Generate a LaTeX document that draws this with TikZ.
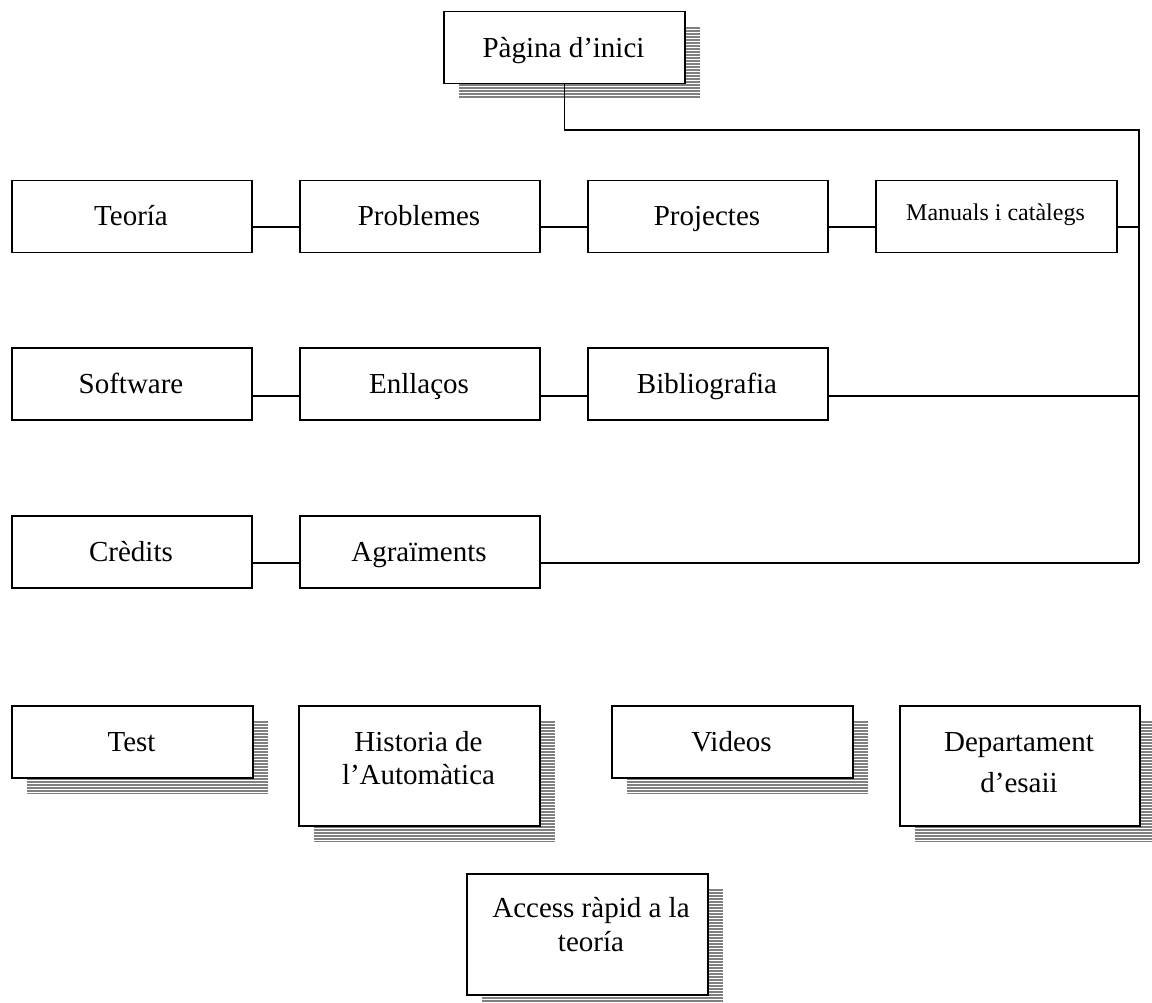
\documentclass[tikz,border=0pt]{standalone}
\usepackage{fontspec}
\setmainfont{Liberation Serif}
\newcommand\mainsize{\fontsize{29}{33}\selectfont}
\newcommand\smallsize{\fontsize{24}{28}\selectfont}
\newcommand\shadowat[4]{%
  \begin{scope}
    \clip (#1+16,#2+16) rectangle (#3+16,#4+16);
    \foreach \k in {0,...,46}{\draw[shadowline] (#1+16,#2+17+3*\k) -- (#3+16,#2+17+3*\k);}
  \end{scope}}
\tikzset{
  boxnode/.style={draw=black, line width=1.5pt, fill=white, inner sep=0pt, anchor=north west, minimum height=72pt},
  conn/.style={draw=black, line width=1.3pt},
  txt/.style={anchor=base, inner sep=0pt, font=\mainsize, text=black},
  smalltxt/.style={anchor=base, inner sep=0pt, font=\smallsize, text=black},
  shadowline/.style={draw=black!50, line width=2pt},
}
\begin{document}
\begin{tikzpicture}[x=1pt,y=-1pt]
\useasboundingbox (0,0) rectangle (1152,1003);
\fill[white] (0,0) rectangle (1152,1003);

% shadows
\shadowat{443}{11}{684}{83}
\shadowat{11}{705}{252}{777}
\shadowat{298}{705}{539}{825}
\shadowat{611}{705}{852}{777}
\shadowat{899}{705}{1139}{825}
\shadowat{466}{873}{707}{994}

% spine coordinates
\coordinate (spinetop) at (1139,130);
\coordinate (spinebot) at (1139,563);
\coordinate (r1) at (0,227);
\coordinate (r2) at (0,396);
\coordinate (r3) at (0,563);

% connector from top box (drawn over its shadow)
\node[boxnode, minimum width=241pt] (pagina) at (443,11) {};
\draw[conn] (pagina.south) -- (pagina.south |- spinetop) -- (spinetop) -- (spinebot);

% row 1
\node[boxnode, minimum width=240pt] (teoria) at (11,180) {};
\node[boxnode, minimum width=240pt] (problemes) at (299,180) {};
\node[boxnode, minimum width=240pt] (projectes) at (587,180) {};
\node[boxnode, minimum width=241pt] (manuals) at (875,180) {};
% row 2
\node[boxnode, minimum width=240pt] (software) at (11,347) {};
\node[boxnode, minimum width=240pt] (enllacos) at (299,347) {};
\node[boxnode, minimum width=240pt] (biblio) at (587,347) {};
% row 3
\node[boxnode, minimum width=240pt] (credits) at (11,515) {};
\node[boxnode, minimum width=240pt] (agraiments) at (299,515) {};
% row 4
\node[boxnode, minimum width=241pt] (test) at (11,705) {};
\node[boxnode, minimum width=241pt, minimum height=120pt] (historia) at (298,705) {};
\node[boxnode, minimum width=241pt] (videos) at (611,705) {};
\node[boxnode, minimum width=240pt, minimum height=120pt] (departament) at (899,705) {};
\node[boxnode, minimum width=241pt, minimum height=121pt] (access) at (466,873) {};

% connectors
\draw[conn] (teoria.east |- r1) -- (problemes.west |- r1);
\draw[conn] (problemes.east |- r1) -- (projectes.west |- r1);
\draw[conn] (projectes.east |- r1) -- (manuals.west |- r1);
\draw[conn] (manuals.east |- r1) -- (spinetop |- r1);
\draw[conn] (software.east |- r2) -- (enllacos.west |- r2);
\draw[conn] (enllacos.east |- r2) -- (biblio.west |- r2);
\draw[conn] (biblio.east |- r2) -- (spinetop |- r2);
\draw[conn] (credits.east |- r3) -- (agraiments.west |- r3);
\draw[conn] (agraiments.east |- r3) -- (spinebot);

% texts
\node[txt] (tpagina) at (563.5,58) {Pàgina d’inici};
\node[txt] (tteoria) at (131,226) {Teoría};
\node[txt] (tproblemes) at (419,226) {Problemes};
\node[txt] (tprojectes) at (707,226) {Projectes};
\node[smalltxt] (tmanuals) at (995.5,221) {Manuals i catàlegs};
\node[txt] (tsoftware) at (131,393) {Software};
\node[txt] (tenllacos) at (419,393) {Enllaços};
\node[txt] (tbiblio) at (707,393) {Bibliografia};
\node[txt] (tcredits) at (131,561) {Crèdits};
\node[txt] (tagraiments) at (419,561) {Agraïments};
\node[txt] (ttest) at (131.5,751) {Test};
\node[txt] (thist1) at (418.5,751) {Historia de};
\node[txt] (thist2) at (418.5,784) {l’Automàtica};
\node[txt] (tvideos) at (731.5,751) {Videos};
\node[txt] (tdep1) at (1019,751) {Departament};
\node[txt] (tdep2) at (1019,792) {d’esaii};
\node[txt] (tacc1) at (591,917) {Access ràpid a la};
\node[txt] (tacc2) at (591,951) {teoría};
\end{tikzpicture}
\end{document}
